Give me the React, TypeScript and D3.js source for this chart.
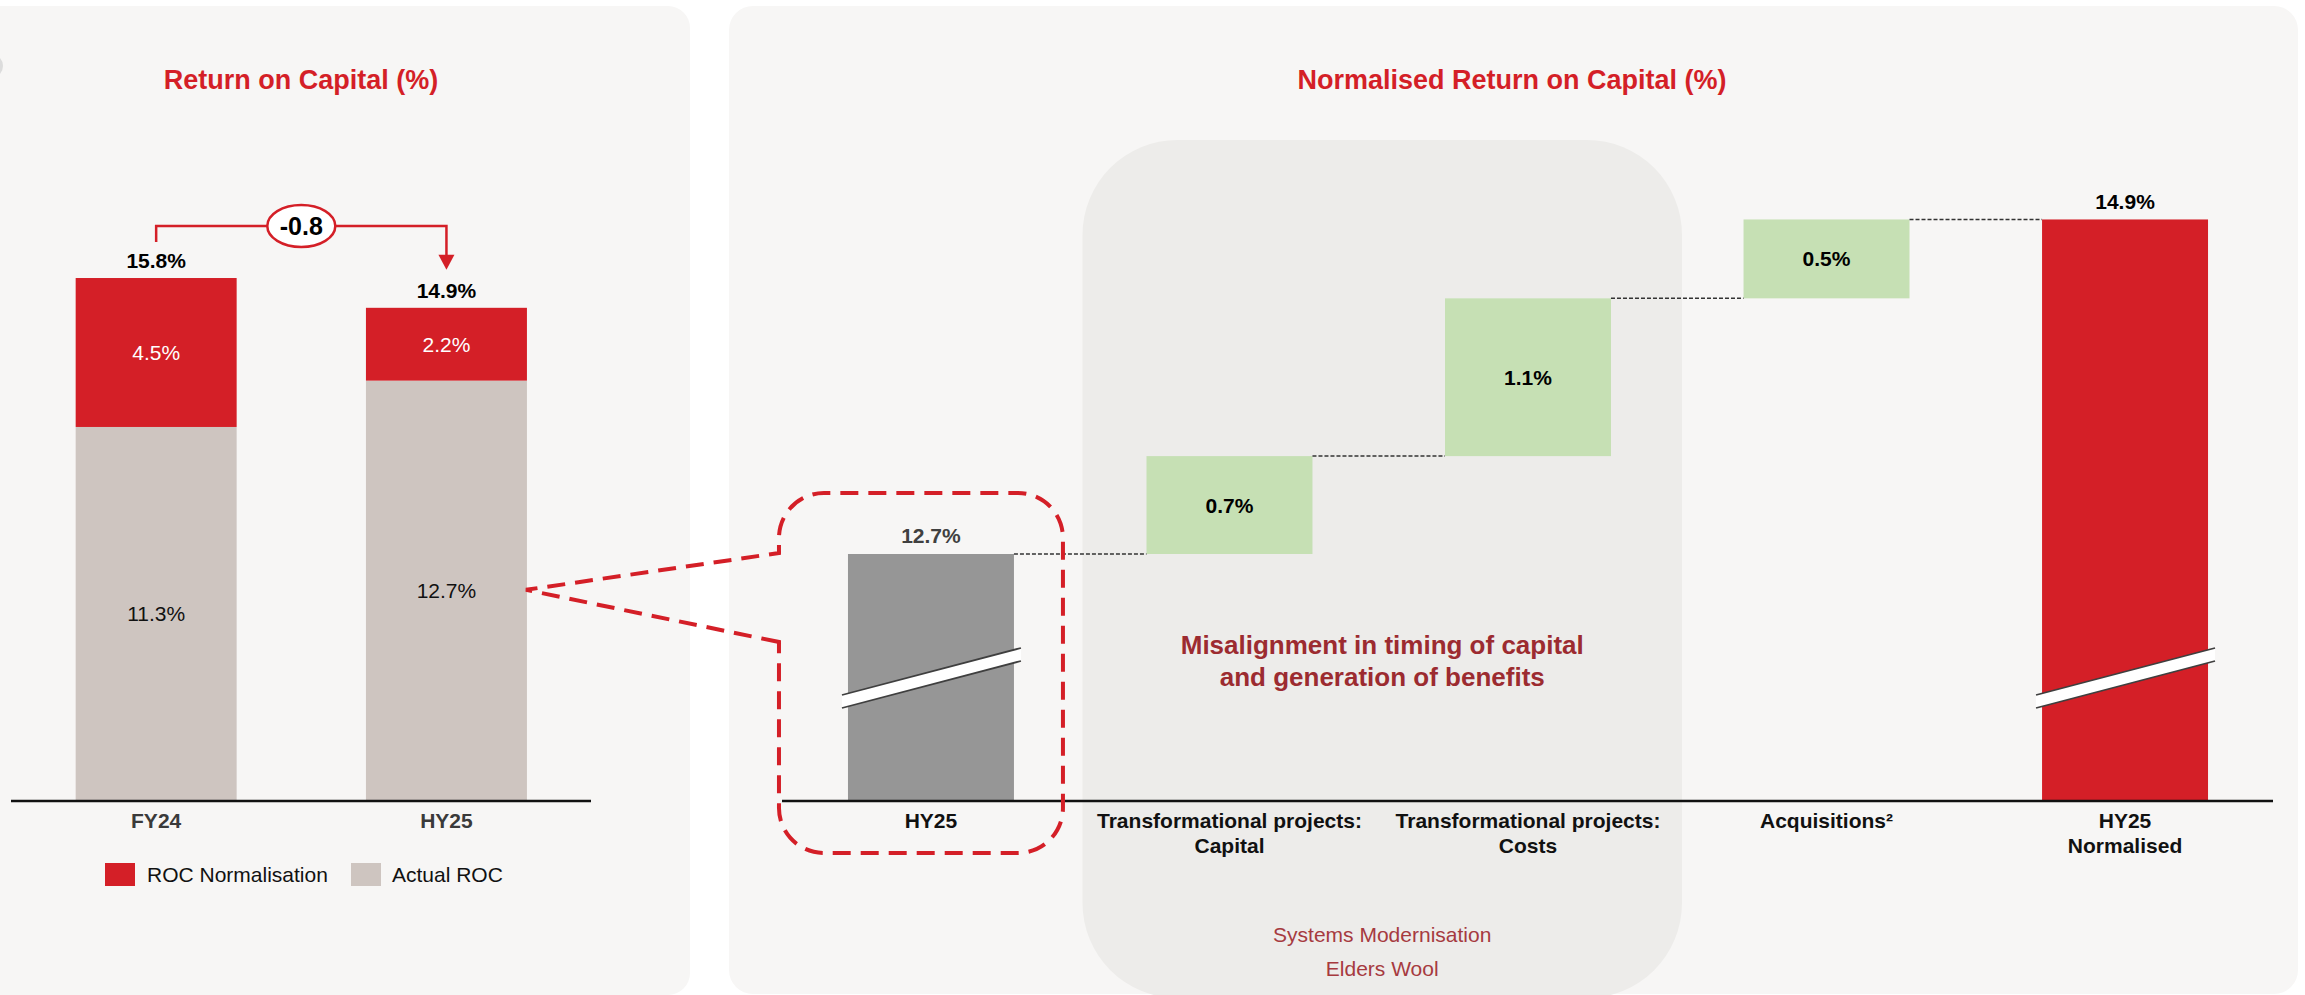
import React from "react";
import * as d3 from "d3";

// ---------- DATA ----------
const leftCategories = ["FY24", "HY25"];
const actualROC = [11.3, 12.7];
const rocNormalisation = [4.5, 2.2];
const totalROC = [15.8, 14.9];
const changeLabel = "-0.8";
const legendItems = ["ROC Normalisation", "Actual ROC"];

const wfCategories = ["HY25", "TPCapital", "TPCosts", "Acquisitions", "HY25N"];
const wfCategoryLines = [
  ["HY25"],
  ["Transformational projects:", "Capital"],
  ["Transformational projects:", "Costs"],
  ["Acquisitions²"],
  ["HY25", "Normalised"],
];
const wfStart = 12.7;
const wfSteps = [0.67, 1.08, 0.54];
const wfStepLabels = ["0.7%", "1.1%", "0.5%"];
const wfEnd = 14.9;

const highlightTitle = ["Misalignment in timing of capital", "and generation of benefits"];
const highlightItems = ["Systems Modernisation", "Elders Wool"];

// ---------- STYLE ----------
const FONT = "'Liberation Sans', Arial, Helvetica, sans-serif";
const RED = "#d41f27";
const ACTUAL = "#cec5c0";
const GREEN = "#c6e0b4";
const BAR_GRAY = "#969696";
const PANEL = "#f7f6f5";
const HILITE = "#edecea";

const W = 2305;
const H = 995;
const BASE = 801;

export default function App() {
  // Left chart scales
  const xL = d3.scaleBand().domain(leftCategories).range([11.8, 590.8]).paddingInner(0.4454).paddingOuter(0.22);
  const yL = d3.scaleLinear().domain([0, 16]).range([BASE, BASE - 16 * 33.1]);
  const bwL = xL.bandwidth();

  // Right chart scales (broken axis)
  const xR = d3.scaleBand().domain(wfCategories).range([782, 2274]).paddingInner(0.444).paddingOuter(0.221);
  const bwR = xR.bandwidth();
  const cum: number[] = [wfStart];
  wfSteps.forEach((s, i) => cum.push(cum[i] + s));
  const cumEnd = cum[cum.length - 1];
  const yR = d3.scaleLinear().domain([wfStart, wfStart + 2.3]).range([554, 218]);

  const breakMark = (x0: number) => {
    const lx = x0 - 6;
    const rx = x0 + bwR + 7;
    const top = d3.line()([[lx, 695], [rx, 648]]);
    const bot = d3.line()([[lx, 708], [rx, 661]]);
    const poly = `M${lx},695L${rx},648L${rx},661L${lx},708Z`;
    return (
      <g>
        <path d={poly} fill="#ffffff" />
        <path d={top!} stroke="#3f3f3f" strokeWidth={1.8} fill="none" />
        <path d={bot!} stroke="#3f3f3f" strokeWidth={1.8} fill="none" />
      </g>
    );
  };

  // bracket geometry
  const cx0 = xL("FY24")! + bwL / 2;
  const cx1 = xL("HY25")! + bwL / 2;
  const brTopY = 226;
  const brStartY = yL(totalROC[0]) - 36;
  const brTipY = yL(totalROC[1]) - 38;
  const ovalX = (cx0 + cx1) / 2;

  // callout geometry
  const apexX = xL("HY25")! + bwL - 1;
  const apexY = yL(actualROC[1] / 2) - 1;
  const cL = xR("HY25")! - 69;
  const cR = xR("HY25")! + bwR + 49;
  const cT = yR(wfStart) - 61;
  const cB = 853;
  const r = 45;
  const calloutPath =
    `M${cL},642 L${apexX},${apexY} L${cL},553 V${cT + r} A${r},${r} 0 0 1 ${cL + r},${cT} H${cR - r} ` +
    `A${r},${r} 0 0 1 ${cR},${cT + r} V${cB - r} A${r},${r} 0 0 1 ${cR - r},${cB} H${cL + r} ` +
    `A${r},${r} 0 0 1 ${cL},${cB - r} Z`;

  const hlX0 = xR("TPCapital")! - 64;
  const hlX1 = xR("TPCosts")! + bwR + 71;
  const hlCx = (hlX0 + hlX1) / 2;

  return (
    <svg
      width={W}
      height={H}
      viewBox={`0 0 ${W} ${H}`}
      style={{ position: "absolute", left: 0, top: 0, background: "#ffffff", fontFamily: FONT }}
    >
      {/* panels */}
      <rect x={-30} y={6} width={720} height={989} rx={22} fill={PANEL} />
      <rect x={729} y={6} width={1569} height={988} rx={24} fill={PANEL} />
      <circle cx={-9} cy={66} r={12} fill="#dcdcdc" />

      {/* ---------- LEFT CHART ---------- */}
      <text x={301} y={89} textAnchor="middle" fontSize={27} fontWeight="bold" fill={RED}>
        Return on Capital (%)
      </text>

      {leftCategories.map((c, i) => {
        const x = xL(c)!;
        return (
          <g key={c}>
            <rect x={x} y={yL(actualROC[i])} width={bwL} height={yL(0) - yL(actualROC[i])} fill={ACTUAL} />
            <rect
              x={x}
              y={yL(actualROC[i] + rocNormalisation[i])}
              width={bwL}
              height={yL(actualROC[i]) - yL(actualROC[i] + rocNormalisation[i])}
              fill={RED}
            />
            <text x={x + bwL / 2} y={(yL(actualROC[i]) + yL(0)) / 2 + 7.5} textAnchor="middle" fontSize={21} fill="#111">
              {actualROC[i].toFixed(1)}%
            </text>
            <text
              x={x + bwL / 2}
              y={(yL(actualROC[i]) + yL(actualROC[i] + rocNormalisation[i])) / 2 + 7.5}
              textAnchor="middle"
              fontSize={21}
              fill="#ffffff"
            >
              {rocNormalisation[i].toFixed(1)}%
            </text>
            <text x={x + bwL / 2} y={yL(totalROC[i]) - 10} textAnchor="middle" fontSize={21} fontWeight="bold" fill="#000">
              {totalROC[i].toFixed(1)}%
            </text>
            <text x={x + bwL / 2} y={828} textAnchor="middle" fontSize={21} fontWeight="bold" fill="#3a3a3a">
              {c}
            </text>
          </g>
        );
      })}
      <line x1={11} x2={591} y1={BASE} y2={BASE} stroke="#111" strokeWidth={2.5} />

      {/* bracket */}
      <path
        d={`M${cx0},${brStartY} V${brTopY} H${cx1} V${brTipY - 14}`}
        fill="none"
        stroke={RED}
        strokeWidth={2.5}
      />
      <path d={`M${cx1 - 8},${brTipY - 15} L${cx1 + 8},${brTipY - 15} L${cx1},${brTipY} Z`} fill={RED} />
      <ellipse cx={ovalX} cy={brTopY} rx={34} ry={21} fill="#ffffff" stroke={RED} strokeWidth={2.5} />
      <text x={ovalX} y={brTopY + 9} textAnchor="middle" fontSize={25} fontWeight="bold" fill="#000">
        {changeLabel}
      </text>

      {/* legend */}
      <rect x={105} y={863} width={30} height={23} fill={RED} />
      <text x={147} y={882} fontSize={21} fill="#111">{legendItems[0]}</text>
      <rect x={351} y={863} width={30} height={23} fill={ACTUAL} />
      <text x={392} y={882} fontSize={21} fill="#111">{legendItems[1]}</text>

      {/* ---------- RIGHT CHART ---------- */}
      <text x={1512} y={89} textAnchor="middle" fontSize={27} fontWeight="bold" fill={RED}>
        Normalised Return on Capital (%)
      </text>

      {/* highlight region */}
      <rect x={hlX0} y={140} width={hlX1 - hlX0} height={858} rx={95} fill={HILITE} />
      <text x={hlCx} y={654} textAnchor="middle" fontSize={26} fontWeight="bold" fill="#9c2b30">
        {highlightTitle[0]}
      </text>
      <text x={hlCx} y={686} textAnchor="middle" fontSize={26} fontWeight="bold" fill="#9c2b30">
        {highlightTitle[1]}
      </text>
      <text x={hlCx} y={942} textAnchor="middle" fontSize={21} fill="#a63a3f">
        {highlightItems[0]}
      </text>
      <text x={hlCx} y={976} textAnchor="middle" fontSize={21} fill="#a63a3f">
        {highlightItems[1]}
      </text>

      {/* start bar */}
      <rect x={xR("HY25")!} y={yR(wfStart)} width={bwR} height={BASE - yR(wfStart)} fill={BAR_GRAY} />
      <text x={xR("HY25")! + bwR / 2} y={yR(wfStart) - 11} textAnchor="middle" fontSize={21} fontWeight="bold" fill="#404040">
        {wfStart.toFixed(1)}%
      </text>
      {breakMark(xR("HY25")!)}

      {/* step bars */}
      {wfSteps.map((s, i) => {
        const c = wfCategories[i + 1];
        const x = xR(c)!;
        const y0 = yR(cum[i]);
        const y1 = yR(cum[i + 1]);
        return (
          <g key={c}>
            <rect x={x} y={y1} width={bwR} height={y0 - y1} fill={GREEN} />
            <text x={x + bwR / 2} y={(y0 + y1) / 2 + 7.5} textAnchor="middle" fontSize={21} fontWeight="bold" fill="#000">
              {wfStepLabels[i]}
            </text>
          </g>
        );
      })}

      {/* end bar */}
      <rect x={xR("HY25N")!} y={yR(cumEnd)} width={bwR} height={BASE - yR(cumEnd)} fill={RED} />
      <text x={xR("HY25N")! + bwR / 2} y={yR(cumEnd) - 10} textAnchor="middle" fontSize={21} fontWeight="bold" fill="#000">
        {wfEnd.toFixed(1)}%
      </text>
      {breakMark(xR("HY25N")!)}

      {/* connectors */}
      {cum.map((v, i) => {
        const xa = xR(wfCategories[i])! + bwR;
        const xb = xR(wfCategories[i + 1])!;
        return (
          <line key={i} x1={xa} x2={xb} y1={yR(v)} y2={yR(v)} stroke="#333" strokeWidth={1.5} strokeDasharray="4 2" />
        );
      })}

      <line x1={782} x2={2273} y1={BASE} y2={BASE} stroke="#111" strokeWidth={2.5} />

      {/* category labels */}
      {wfCategories.map((c, i) => (
        <text key={c} x={xR(c)! + bwR / 2} textAnchor="middle" fontSize={21} fontWeight="bold" fill="#111">
          {wfCategoryLines[i].map((ln, j) => (
            <tspan key={j} x={xR(c)! + bwR / 2} y={828 + j * 25}>
              {ln}
            </tspan>
          ))}
        </text>
      ))}

      {/* dashed callout */}
      <path d={calloutPath} fill="none" stroke={RED} strokeWidth={4} strokeDasharray="18 10" />
    </svg>
  );
}
